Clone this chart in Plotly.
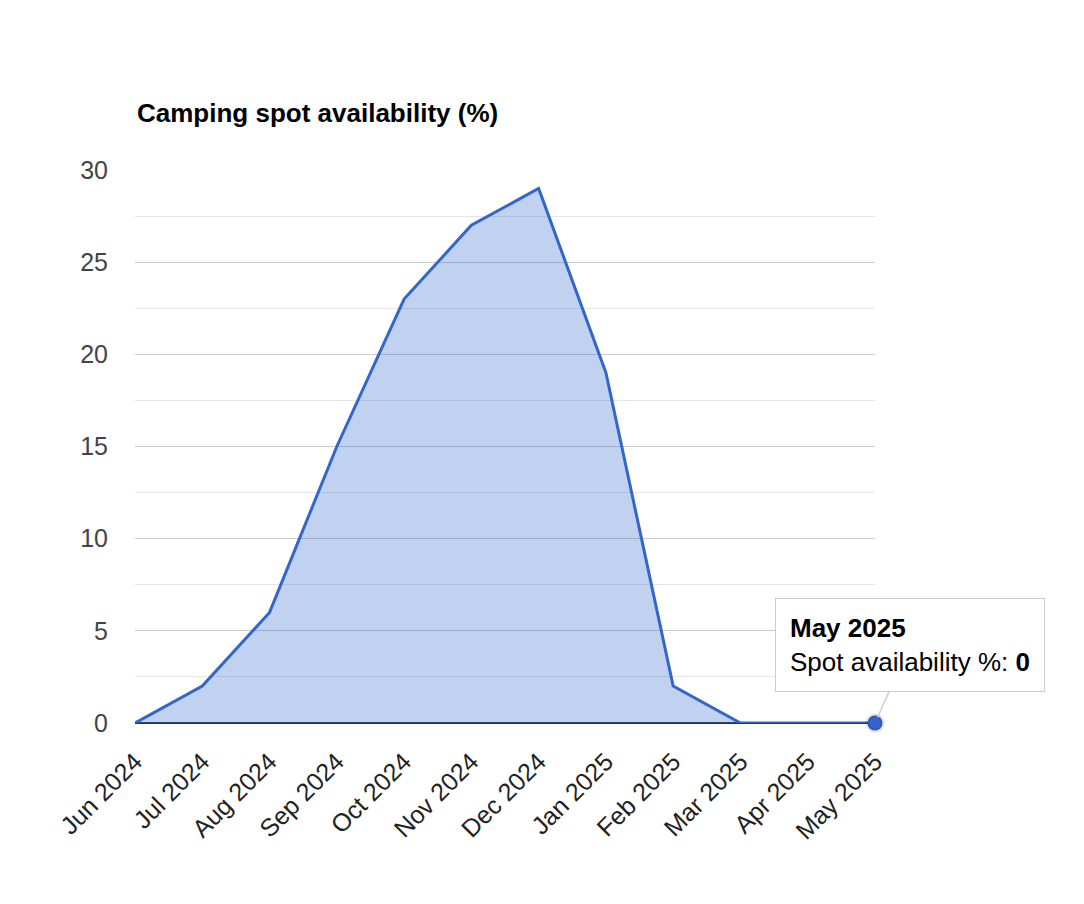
"""Camping spot availability area chart, Google-Charts look."""

import plotly.graph_objects as go

MONTHS = [
    "Jun 2024", "Jul 2024", "Aug 2024", "Sep 2024", "Oct 2024", "Nov 2024",
    "Dec 2024", "Jan 2025", "Feb 2025", "Mar 2025", "Apr 2025", "May 2025",
]
AVAILABILITY = [0, 2, 6, 15, 23, 27, 29, 19, 2, 0, 0, 0]
Y_TICKS = [0, 5, 10, 15, 20, 25, 30]

TITLE = "Camping spot availability (%)"
SERIES_NAME = "Spot availability %"

FONT = "Liberation Sans, Arial, sans-serif"
BLUE = "#3366cc"

fig = go.Figure()

fig.add_trace(
    go.Scatter(
        x=MONTHS,
        y=AVAILABILITY,
        mode="lines",
        name=SERIES_NAME,
        line=dict(color=BLUE, width=3),
        fill="tozeroy",
        fillcolor="rgba(51,102,204,0.3)",
        hoverinfo="skip",
    )
)

# highlighted (hovered) point
fig.add_trace(
    go.Scatter(
        x=MONTHS[-1:],
        y=AVAILABILITY[-1:],
        mode="markers",
        marker=dict(size=15, color=BLUE,
                    line=dict(color="rgba(0,0,0,0.12)", width=4)),
        hoverinfo="skip",
        cliponaxis=False,
    )
)

# tooltip
fig.add_annotation(
    x=MONTHS[-1],
    y=AVAILABILITY[-1],
    xref="x",
    yref="y",
    text=f"<b>{MONTHS[-1]}</b><br>{SERIES_NAME}: <b>{AVAILABILITY[-1]}</b>",
    align="left",
    font=dict(family=FONT, size=26, color="#000000"),
    bgcolor="#ffffff",
    bordercolor="#cccccc",
    borderwidth=1,
    borderpad=14,
    showarrow=True,
    arrowhead=0,
    arrowwidth=1.5,
    arrowcolor="#cccccc",
    standoff=6,
    ax=35,
    ay=-78,
)

fig.add_annotation(
    text=f"<b>{TITLE}</b>",
    xref="paper",
    yref="paper",
    x=0,
    y=1,
    xanchor="left",
    yanchor="bottom",
    yshift=40,
    showarrow=False,
    font=dict(family=FONT, size=26, color="#000000"),
)

fig.update_xaxes(
    type="category",
    range=[0, len(MONTHS) - 1],
    tickangle=-45,
    tickfont=dict(family=FONT, size=25, color="#222222"),
    showgrid=False,
    showline=False,
    ticks="",
    zeroline=False,
    ticklabelstandoff=18,
)

fig.update_yaxes(
    range=[0, 30],
    tickvals=Y_TICKS,
    tickfont=dict(family=FONT, size=25, color="#444444"),
    gridcolor="#cccccc",
    gridwidth=1,
    minor=dict(dtick=2.5, showgrid=True, gridcolor="#e6e6e6", gridwidth=1),
    zeroline=True,
    zerolinecolor="#333333",
    zerolinewidth=2,
    ticks="",
    ticklabelstandoff=26,
)

fig.update_layout(
    width=1076,
    height=896,
    margin=dict(l=127, r=209, t=162, b=181),
    paper_bgcolor="#ffffff",
    plot_bgcolor="#ffffff",
    showlegend=False,
    font=dict(family=FONT),
)

fig.write_html("out.html")
